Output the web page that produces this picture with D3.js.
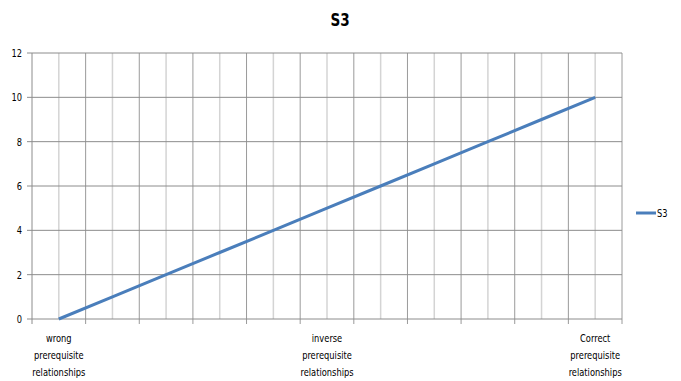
<!DOCTYPE html>
<html>
<head>
<meta charset="utf-8">
<script src="https://cdn.jsdelivr.net/npm/d3@7"></script>
<style>
  html, body { margin: 0; padding: 0; background: #fff; }
  svg text { font-family: "DejaVu Sans Condensed", "Liberation Sans", sans-serif; fill: #000; }
</style>
</head>
<body>
<svg id="chart" width="681" height="381"></svg>
<script>
// Category positions along the x axis (only some carry a printed label)
const categories = ["c1", "c2", "c3", "c4", "c5", "c6", "c7", "c8", "c9", "c10", "c11"];
const categoryLabels = [
  ["wrong", "prerequisite", "relationships"],
  null, null, null, null,
  ["inverse", "prerequisite", "relationships"],
  null, null, null, null,
  ["Correct", "prerequisite", "relationships"]
];
const seriesName = "S3";
const seriesValues = [0, 1, 2, 3, 4, 5, 6, 7, 8, 9, 10];
const yTicks = [0, 2, 4, 6, 8, 10, 12];

const svg = d3.select("#chart");
const margin = { left: 32, right: 59, top: 53, bottom: 62 };
const width = 681, height = 381;
const narrow = 0.84; // horizontal squeeze for a condensed look

const x = d3.scaleBand().domain(categories)
  .range([margin.left, width - margin.right]).paddingInner(0).paddingOuter(0);
const y = d3.scaleLinear().domain([0, 12]).range([height - margin.bottom, margin.top]);

// Text placed in its own group so it can be narrowed horizontally
function label(parent, px, py, anchor, size) {
  return parent.append("g")
    .attr("transform", `translate(${px},${py}) scale(${narrow},1)`)
    .append("text").attr("text-anchor", anchor).attr("font-size", size);
}

const g = svg.append("g");

// Light vertical lines through each category centre
g.selectAll("line.vminor").data(categories).enter().append("line")
  .attr("x1", d => x(d) + x.bandwidth() / 2).attr("x2", d => x(d) + x.bandwidth() / 2)
  .attr("y1", y(12)).attr("y2", y(0))
  .attr("stroke", "#d4d4d4").attr("stroke-width", 1.5);

// Darker vertical lines at category boundaries
const bounds = categories.map(d => x(d)).concat([x(categories[categories.length - 1]) + x.bandwidth()]);
g.selectAll("line.vmajor").data(bounds.slice(1)).enter().append("line")
  .attr("x1", d => d).attr("x2", d => d)
  .attr("y1", y(12)).attr("y2", y(0) + 5)
  .attr("stroke", "#9a9a9a").attr("stroke-width", 1);

// Horizontal gridlines
g.selectAll("line.h").data(yTicks).enter().append("line")
  .attr("x1", margin.left - 5).attr("x2", width - margin.right)
  .attr("y1", d => y(d)).attr("y2", d => y(d))
  .attr("stroke", "#8c8c8c").attr("stroke-width", 1);

// Y axis line
g.append("line").attr("x1", margin.left).attr("x2", margin.left)
  .attr("y1", y(12)).attr("y2", y(0) + 5)
  .attr("stroke", "#8c8c8c").attr("stroke-width", 1);

// Y tick labels
yTicks.forEach(d => {
  label(g, margin.left - 10, y(d), "end", 11).attr("dy", "0.35em").text(d);
});

// X category labels
categories.forEach((c, i) => {
  const lines = categoryLabels[i];
  if (!lines) return;
  const t = label(g, x(c) + x.bandwidth() / 2, y(0) + 23, "middle", 11);
  lines.forEach((s, k) => {
    t.append("tspan").attr("x", 0).attr("dy", k === 0 ? 0 : 17).text(s);
  });
});

// Series line
const line = d3.line()
  .x((d, i) => x(categories[i]) + x.bandwidth() / 2)
  .y(d => y(d));
g.append("path").datum(seriesValues)
  .attr("d", line).attr("fill", "none")
  .attr("stroke", "#4a7ebb").attr("stroke-width", 3);

// Title
label(svg, 340, 26, "middle", 18).attr("font-weight", "bold").text(seriesName);

// Legend
const ly = 213;
svg.append("line").attr("x1", 636).attr("x2", 656).attr("y1", ly).attr("y2", ly)
  .attr("stroke", "#4a7ebb").attr("stroke-width", 3);
label(svg, 657, ly, "start", 11).attr("dy", "0.35em").text(seriesName);
</script>
</body>
</html>
